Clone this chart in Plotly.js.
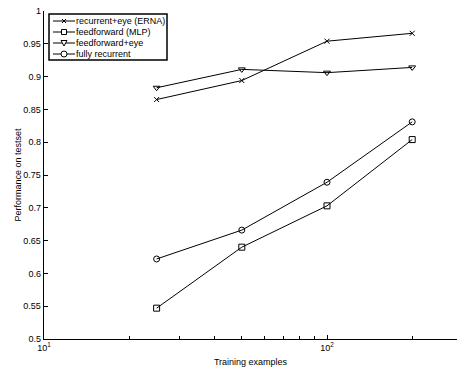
<!DOCTYPE html>
<html>
<head>
<meta charset="utf-8">
<script src="https://cdn.plot.ly/plotly-3.0.1.min.js"></script>
<style>html,body{margin:0;padding:0;background:#fff;}#chart{width:457px;height:377px;}</style>
</head>
<body>
<div id="chart"></div>
<script>
// ---- data ----
var trainingExamples = [25, 50, 100, 200];
var seriesNames = ["recurrent+eye (ERNA)", "feedforward (MLP)", "feedforward+eye", "fully recurrent"];
var recurrentEye = [0.865, 0.894, 0.954, 0.966];
var feedforwardMLP = [0.547, 0.640, 0.703, 0.804];
var feedforwardEye = [0.883, 0.911, 0.906, 0.914];
var fullyRecurrent = [0.622, 0.666, 0.739, 0.831];
var yTickVals = [0.5, 0.55, 0.6, 0.65, 0.7, 0.75, 0.8, 0.85, 0.9, 0.95, 1];
var yTickText = ["0.5", "0.55", "0.6", "0.65", "0.7", "0.75", "0.8", "0.85", "0.9", "0.95", "1"];
var xTickVals = [10, 100];
var xTickText = ["10<sup>1</sup>", "10<sup>2</sup>"];
var xMinorVals = [20, 30, 40, 50, 60, 70, 80, 90, 200];

// ---- layout geometry (pixels) ----
var W = 457, H = 377, L = 44, R = 0, T = 11, B = 38;
var PW = W - L - R, PH = H - T - B;
function px(x) { return (x - L) / PW; }
function py(y) { return (H - B - y) / PH; }

var font = "Liberation Sans, Arial, Helvetica, sans-serif";
var symbols = ["x-thin-open", "square-open", "triangle-down-open", "circle-open"];
var allY = [recurrentEye, feedforwardMLP, feedforwardEye, fullyRecurrent];

var traces = allY.map(function (ys, i) {
  return {
    x: trainingExamples, y: ys, name: seriesNames[i], type: "scatter", mode: "lines+markers",
    line: { color: "#000", width: 1 },
    marker: { symbol: symbols[i], size: i === 0 ? 5 : 6, color: "#000", line: { color: "#000", width: 1 } },
    showlegend: false
  };
});

// ---- custom compact legend ----
var shapes = [];
var annotations = [];
var box = { x0: 49, x1: 167, y0: 14, y1: 60 };
shapes.push({ type: "rect", xref: "paper", yref: "paper", x0: px(box.x0), x1: px(box.x1), y0: py(box.y1), y1: py(box.y0),
  line: { color: "#000", width: 1.5 }, fillcolor: "#fff", layer: "above" });
var rowY = [21, 32, 43, 54];
var mx = 64, s = 2.5;
rowY.forEach(function (yy, i) {
  shapes.push({ type: "line", xref: "paper", yref: "paper", x0: px(53), x1: px(75), y0: py(yy), y1: py(yy), line: { color: "#000", width: 1 }, layer: "above" });
  if (i === 0) {
    shapes.push({ type: "line", xref: "paper", yref: "paper", x0: px(mx - 2), x1: px(mx + 2), y0: py(yy - 2), y1: py(yy + 2), line: { color: "#000", width: 1 }, layer: "above" });
    shapes.push({ type: "line", xref: "paper", yref: "paper", x0: px(mx - 2), x1: px(mx + 2), y0: py(yy + 2), y1: py(yy - 2), line: { color: "#000", width: 1 }, layer: "above" });
  } else if (i === 1) {
    shapes.push({ type: "rect", xref: "paper", yref: "paper", x0: px(mx - s), x1: px(mx + s), y0: py(yy + s), y1: py(yy - s), line: { color: "#000", width: 1 }, fillcolor: "#fff", layer: "above" });
  } else if (i === 2) {
    shapes.push({ type: "path", xref: "paper", yref: "paper",
      path: "M" + px(mx - 3) + "," + py(yy - 2.5) + " L" + px(mx + 3) + "," + py(yy - 2.5) + " L" + px(mx) + "," + py(yy + 3) + " Z",
      line: { color: "#000", width: 1 }, fillcolor: "#fff", layer: "above" });
  } else {
    shapes.push({ type: "circle", xref: "paper", yref: "paper", x0: px(mx - 3), x1: px(mx + 3), y0: py(yy + 3), y1: py(yy - 3), line: { color: "#000", width: 1 }, fillcolor: "#fff", layer: "above" });
  }
  annotations.push({ xref: "paper", yref: "paper", x: px(75), y: py(yy), xanchor: "left", yanchor: "middle",
    text: seriesNames[i], showarrow: false, borderpad: 0, font: { family: font, size: 9, color: "#000" } });
});

var layout = {
  width: W, height: H,
  margin: { l: L, r: R, t: T, b: B, pad: 0 },
  paper_bgcolor: "#fff", plot_bgcolor: "#fff",
  showlegend: false,
  font: { family: font, size: 9, color: "#000" },
  xaxis: {
    type: "log", range: [1, 1 + PW / 283], tickmode: "array", tickvals: xTickVals, ticktext: xTickText,
    ticks: "inside", ticklen: 4, tickwidth: 1, tickcolor: "#000",
    minor: { tickmode: "array", tickvals: xMinorVals, ticks: "inside", ticklen: 3, tickwidth: 1, tickcolor: "#000", showgrid: false },
    showline: true, linecolor: "#000", linewidth: 1.3, mirror: false, showgrid: false, zeroline: false,
    tickfont: { family: font, size: 9 },
    title: { text: "Training examples", font: { family: font, size: 9 }, standoff: 6 }
  },
  yaxis: {
    range: [0.5, 1], tickmode: "array", tickvals: yTickVals, ticktext: yTickText,
    ticks: "inside", ticklen: 4, tickwidth: 1, tickcolor: "#000",
    showline: true, linecolor: "#000", linewidth: 1.3, mirror: false, showgrid: false, zeroline: false,
    tickfont: { family: font, size: 9 },
    title: { text: "Performance on testset", font: { family: font, size: 9 }, standoff: 0 }
  },
  shapes: shapes,
  annotations: annotations
};

Plotly.newPlot("chart", traces, layout, { staticPlot: true, displayModeBar: false });
</script>
</body>
</html>
